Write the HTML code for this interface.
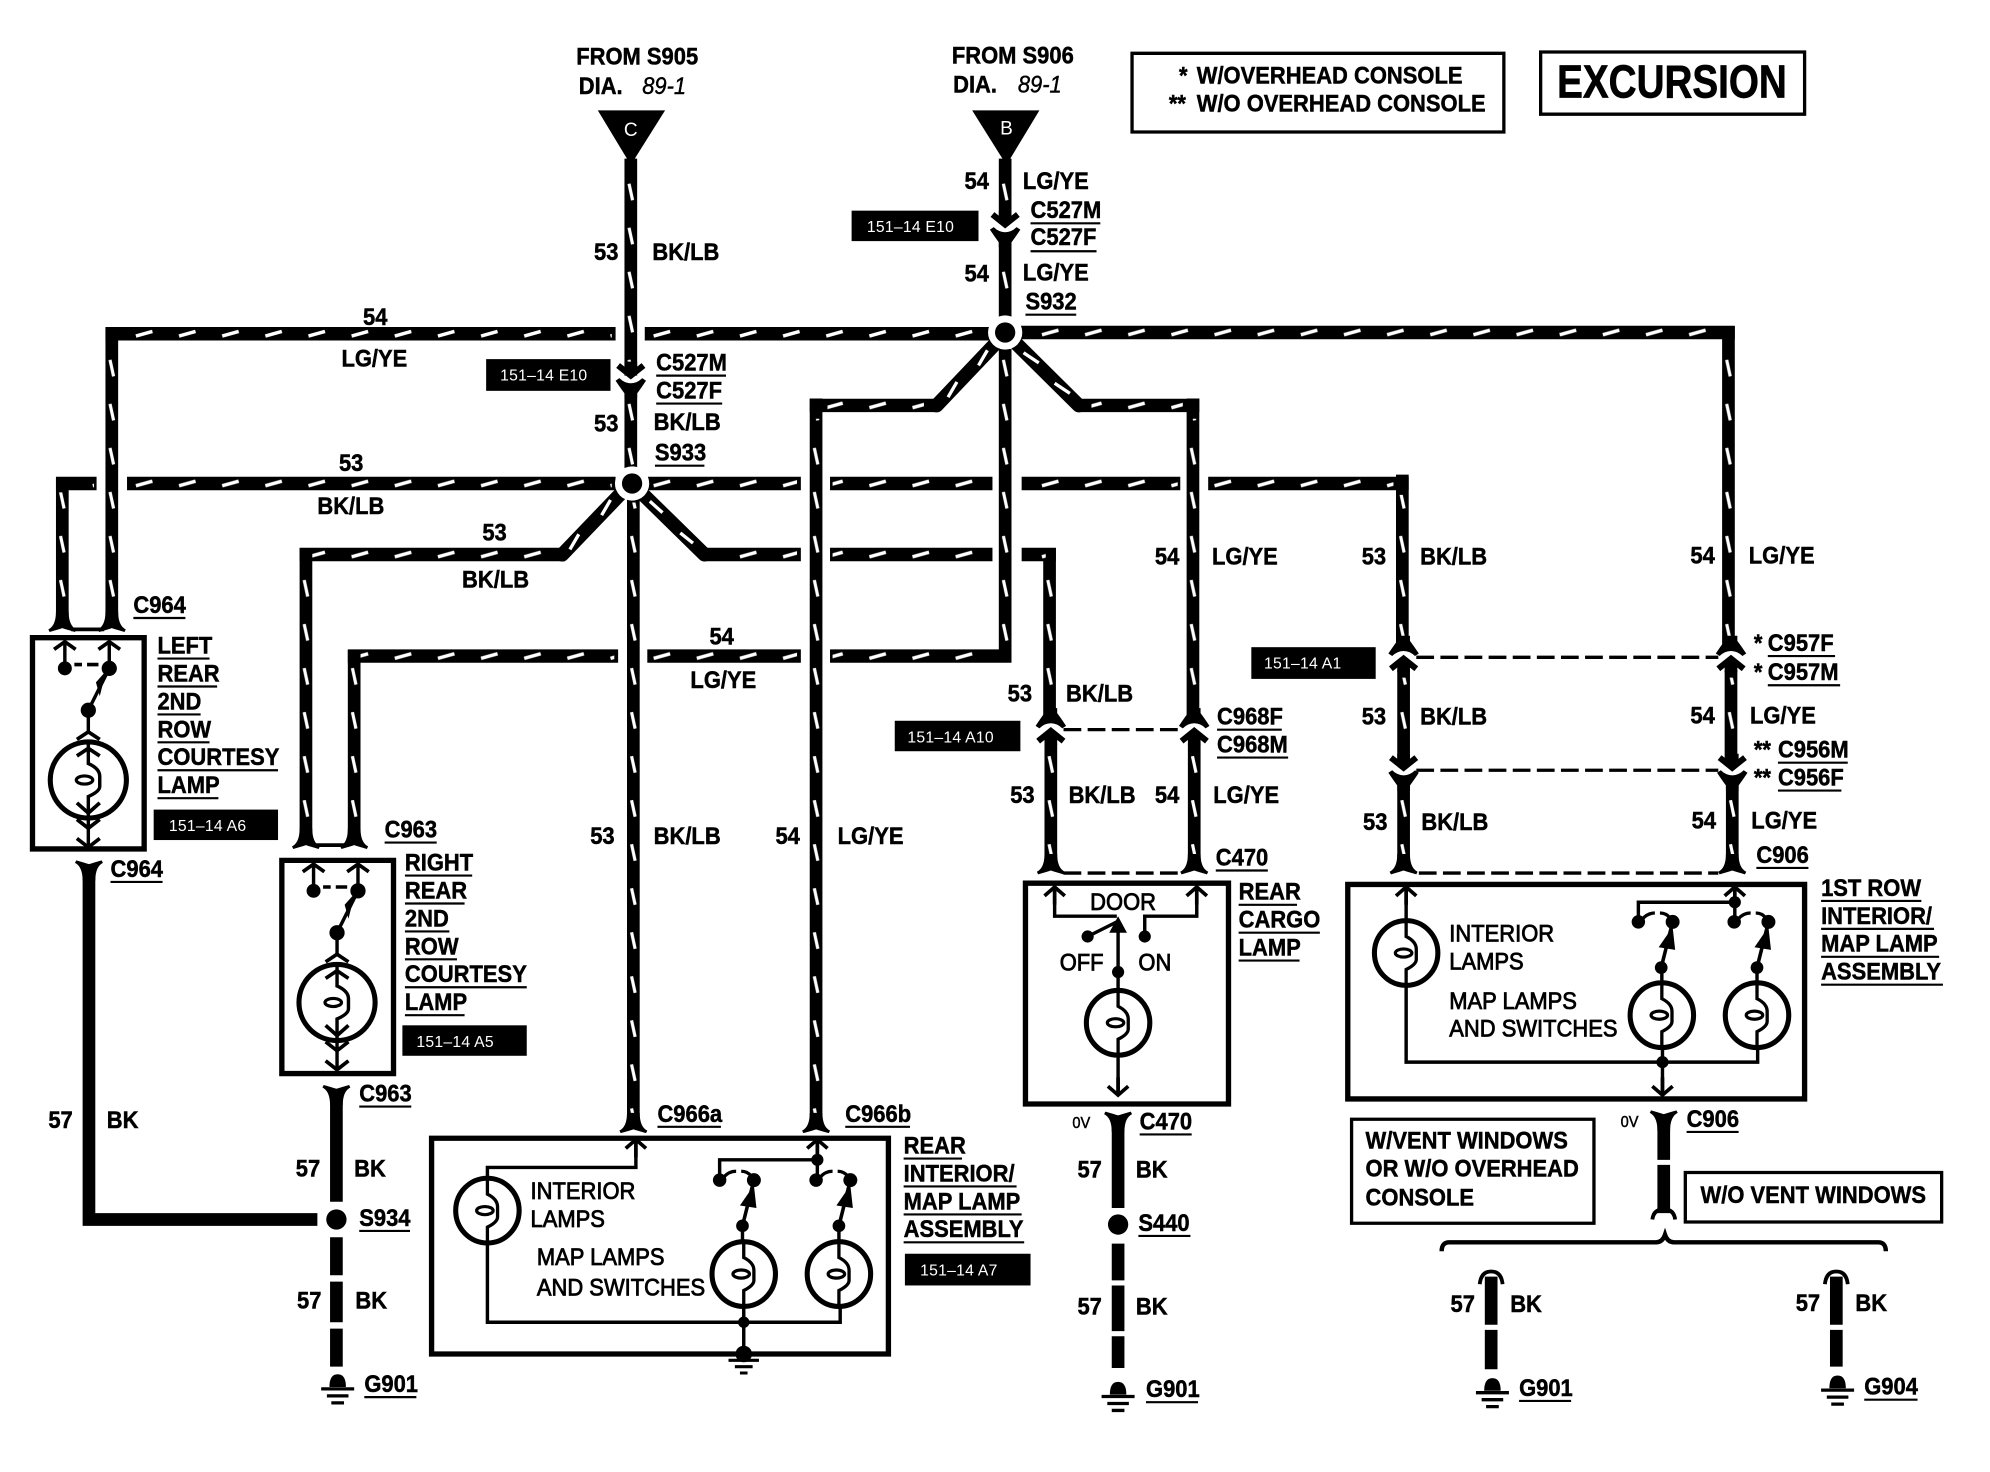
<!DOCTYPE html>
<html><head><meta charset="utf-8"><title>Excursion wiring diagram</title>
<style>
html,body{margin:0;padding:0;background:#fff}
svg{display:block}
text{font-family:"Liberation Sans",sans-serif;font-size:17.3px;font-weight:700;fill:#000;stroke:#000;stroke-width:.35;transform-box:fill-box;transform-origin:0 81%;transform:scaleY(1.1)}
text.n{font-weight:400;stroke-width:.6}
text.i{font-style:italic;font-weight:400;stroke-width:.3}
text.tg{font-size:12.4px;font-weight:400;fill:#fff;stroke:none;letter-spacing:.2px;transform:none}
text.s{font-size:11.5px;font-weight:400}
.w,.hw,.vw,.l,.b,.u,.th,.dd{fill:none;stroke:#000}
.hw{stroke-width:10.6}
.vw{stroke-width:10}
.hd{fill:none;stroke:url(#ph);stroke-width:10}
.vd{fill:none;stroke:url(#pv);stroke-width:10}
.l{stroke-width:2.7}
.b{stroke-width:4.2}
.u{stroke-width:1.7}
.th{stroke-width:10}
.dd{stroke-width:2.6;stroke-dasharray:14 5}
.wh{fill:none;stroke:#fff;stroke-width:2.6}
</style></head><body>
<svg xmlns="http://www.w3.org/2000/svg" xmlns:xlink="http://www.w3.org/1999/xlink" width="1990" height="1472" viewBox="0 0 1568 1160">
<defs>
<pattern id="ph" width="34" height="20" patternUnits="userSpaceOnUse" patternTransform="translate(0,10)"><path d="M5 11.8L18 8.2" stroke="#fff" stroke-width="2.7" fill="none"/></pattern>
<pattern id="pv" width="20" height="34.7" patternUnits="userSpaceOnUse" patternTransform="translate(10,0)"><path d="M8.6 6L11.4 19" stroke="#fff" stroke-width="2.5" fill="none"/></pattern>
<g id="cn"><path d="M-10 -9L0 -1L10 -9" fill="none" stroke="#000" stroke-width="4.8"/><path d="M-5 -12H5V-6L0 -2L-5 -6Z"/><path d="M-12 3L-9 1Q-5 5 0 5Q5 5 9 1L12 3Q8 9 5 13V17H-5V13Q-8 9 -12 3Z"/></g>
<g id="fk"><path d="M-11 6Q-5 3 -5 -8H5Q5 3 11 6L10 8Q3 6 0 5Q-3 6 -10 8Z"/></g>
<g id="au"><path d="M-8 7L0 0L8 7M0 0V14" fill="none" stroke="#000" stroke-width="2.9"/></g>
<g id="ad"><path d="M-8 -7L0 0L8 -7M0 0V-14" fill="none" stroke="#000" stroke-width="2.9"/></g>
<g id="lamp"><ellipse rx="25" ry="25.5" fill="#fff" stroke="#000" stroke-width="4"/><path d="M0 -25V-13Q8 -9 8 -3V5Q8 9 0 13V25" fill="none" stroke="#000" stroke-width="2.6"/><ellipse cx="-2" cy="0" rx="6.500" ry="3.200" fill="none" stroke="#000" stroke-width="2.500"/></g>
<g id="gnd"><path d="M-6.500 0Q-6.500 -10 0 -10Q6.500 -10 6.500 0Z"/><path d="M-13 1.500H13M-8.500 7H8.500M-5 12.500H5" stroke="#000" stroke-width="2.6" fill="none"/></g>
<g id="court">
<ellipse rx="30" ry="30" fill="#fff" stroke="#000" stroke-width="4"/>
<path d="M-18.500 -109V-88M16.500 -109V-88L0 -55V-37M0 -28V-13Q9 -9 9 -3V5Q9 9 0 13V38M0 38V52" fill="none" stroke="#000" stroke-width="2.7"/>
<ellipse cx="-3" cy="0" rx="6.500" ry="3.200" fill="none" stroke="#000" stroke-width="2.500"/>
<path d="M-9 -32L0 -38L9 -32M-9 -19L0 -25L9 -19M-9 18L0 26L9 18M-9 31L0 38L9 31M-9 46L0 53L9 46" fill="none" stroke="#000" stroke-width="2.9"/>
<path d="M-27 -103L-18.500 -109L-10 -103M8 -103L16.500 -109L25 -103" fill="none" stroke="#000" stroke-width="2.9"/>
<circle cx="-18.500" cy="-88" r="5.500"/><circle cx="16.500" cy="-88" r="6"/><circle cy="-55" r="6"/>
<path d="M-11 -91H-5M-1 -91H8" stroke="#000" stroke-width="2.8" fill="none"/><path d="M6 -77L14 -86L9 -66Z"/>
</g>
<g id="sw"><circle cx="0" cy="0" r="5.300"/><path d="M3 -2Q7 -7 13 -7M17 -7Q22 -7 25 -3" fill="none" stroke="#000" stroke-width="2.600"/><circle cx="27" cy="0" r="5.500"/><path d="M27 0L18 36" fill="none" stroke="#000" stroke-width="2.800"/><path d="M27 4L29 22L16 20Z"/><circle cx="18" cy="36" r="5"/></g>
</defs>
<rect width="1568" height="1160" fill="#fff"/>

<!-- source triangles -->
<path d="M471 87H524L497 130Z"/><path d="M766 87H819L793 130Z"/>
<text x="497" y="107" text-anchor="middle" style="fill:#fff;stroke:none;font-size:15px;font-weight:400;transform:none">C</text>
<text x="793" y="106" text-anchor="middle" style="fill:#fff;stroke:none;font-size:15px;font-weight:400;transform:none">B</text>

<!-- vertical dashed wires -->
<g transform="translate(497,0)"><path class="vw" d="M0 125V296"/><path class="vd" d="M0 130V286"/><path class="vw" d="M0 305V375"/><path class="vd" d="M0 310V368"/></g>
<g transform="translate(499,0)"><path class="vw" d="M0 392V884"/><path class="vd" d="M0 396V878"/></g>
<g transform="translate(792,0)"><path class="vw" d="M0 125V176"/><path class="vd" d="M0 130V168"/><path class="vw" d="M0 186V250"/><path class="vd" d="M0 192V245"/><path class="vw" d="M0 275V521"/><path class="vd" d="M0 280V512"/></g>
<g transform="translate(88,0)"><path class="vw" d="M0 258V488"/><path class="vd" d="M0 272V484"/></g>
<g transform="translate(49,0)"><path class="vw" d="M0 376V488"/><path class="vd" d="M0 388V484"/></g>
<g transform="translate(241,0)"><path class="vw" d="M0 432V660"/><path class="vd" d="M0 446V655"/></g>
<g transform="translate(279,0)"><path class="vw" d="M0 512V660"/><path class="vd" d="M0 526V655"/></g>
<g transform="translate(643,0)"><path class="vw" d="M0 314V884"/><path class="vd" d="M0 330V878"/></g>
<g transform="translate(940,0)"><path class="vw" d="M0 314V564"/><path class="vd" d="M0 330V558"/></g>
<g transform="translate(941,0)"><path class="vw" d="M0 586V682"/><path class="vd" d="M0 592V676"/></g>
<g transform="translate(827,0)"><path class="vw" d="M0 432V564"/><path class="vd" d="M0 446V558"/></g>
<g transform="translate(828,0)"><path class="vw" d="M0 586V682"/><path class="vd" d="M0 592V676"/></g>
<g transform="translate(1105,0)"><path class="vw" d="M0 374V510"/><path class="vd" d="M0 390V504"/></g>
<g transform="translate(1106,0)"><path class="vw" d="M0 528V598"/><path class="vd" d="M0 534V590"/><path class="vw" d="M0 616V682"/><path class="vd" d="M0 622V676"/></g>
<g transform="translate(1362,0)"><path class="vw" d="M0 257V510"/><path class="vd" d="M0 272V504"/></g>
<g transform="translate(1364,0)"><path class="vw" d="M0 528V598"/><path class="vd" d="M0 534V590"/></g>
<g transform="translate(1365,0)"><path class="vw" d="M0 616V682"/><path class="vd" d="M0 622V676"/></g>

<!-- horizontal dashed wires -->
<g transform="translate(0,263)"><path class="hw" d="M83 0H485M508 0H782"/><path class="hd" d="M94 0H482M512 0H780"/></g>
<g transform="translate(0,262)"><path class="hw" d="M802 0H1367"/><path class="hd" d="M806 0H1355"/></g>
<g transform="translate(0,381)"><path class="hw" d="M44 0H76M100 0H485M510 0H631M654 0H782M805 0H930M952 0H1110"/><path class="hd" d="M54 0H74M102 0H482M512 0H628M656 0H780M807 0H928M954 0H1098"/></g>
<g transform="translate(0,437)"><path class="hw" d="M236 0H445M555 0H631M654 0H782M805 0H832"/><path class="hd" d="M246 0H436M564 0H628M656 0H780M807 0H824"/></g>
<g transform="translate(0,517)"><path class="hw" d="M274 0H487M510 0H631M654 0H797"/><path class="hd" d="M284 0H484M512 0H628M656 0H784"/></g>
<g transform="translate(0,319.500)"><path class="hw" d="M638 0H738M850 0H945"/><path class="hd" d="M652 0H728M860 0H932"/></g>
<!-- diagonals -->
<path class="w" d="M787 268L738 319.500M798 268L850 319.500M491 387L443 437M504 387L555 437" style="stroke-width:11;stroke-linecap:round"/>
<path class="wh" d="M771 288L778 276M747 313L754 301M806.500 278L818.500 286M831 302L843 310M474 406L481 394M449 433L456 421M512 395L522 404M536 420L546 428"/>
<!-- splices -->
<circle cx="792" cy="262" r="13.500" fill="#fff"/><circle cx="792" cy="262" r="8"/>
<circle cx="498" cy="381" r="13.500" fill="#fff"/><circle cx="498" cy="381" r="8"/>

<!-- connectors -->
<use xlink:href="#cn" x="497" y="297"/><use xlink:href="#cn" x="792" y="178"/>
<use xlink:href="#cn" x="1106" y="606"/><use xlink:href="#cn" x="1365" y="606"/>
<g transform="translate(828,575) scale(1,-1)"><use xlink:href="#cn"/></g>
<g transform="translate(941,575) scale(1,-1)"><use xlink:href="#cn"/></g>
<g transform="translate(1106,518) scale(1,-1)"><use xlink:href="#cn"/></g>
<g transform="translate(1364,518) scale(1,-1)"><use xlink:href="#cn"/></g>
<use xlink:href="#fk" x="49" y="490"/><use xlink:href="#fk" x="88" y="490"/><path class="w" style="stroke-width:3" d="M56 496H82M248 666H272"/>
<use xlink:href="#fk" x="241" y="661"/><use xlink:href="#fk" x="279" y="661"/>
<use xlink:href="#fk" x="499" y="885"/><use xlink:href="#fk" x="643" y="885"/>
<use xlink:href="#fk" x="828" y="681"/><use xlink:href="#fk" x="941" y="681"/>
<use xlink:href="#fk" x="1106" y="681"/><use xlink:href="#fk" x="1365" y="681"/>
<path class="dd" d="M838 575H931M1116 518H1354M1116 607H1354M838 688H930M1118 688H1354"/>

<!-- black tags -->
<rect x="671" y="166" width="100" height="24"/><rect x="383" y="283" width="98" height="25"/><rect x="121" y="638" width="98" height="24"/><rect x="317" y="808" width="98" height="24"/><rect x="713" y="988" width="99" height="25"/><rect x="705" y="568" width="99" height="24"/><rect x="986" y="510" width="98" height="25"/>
<text class="tg" x="683" y="183">151–14 E10</text><text class="tg" x="394" y="300">151–14 E10</text><text class="tg" x="133" y="655">151–14 A6</text><text class="tg" x="328" y="825">151–14 A5</text><text class="tg" x="725" y="1005">151–14 A7</text><text class="tg" x="715" y="585">151–14 A10</text><text class="tg" x="996" y="527">151–14 A1</text>

<!-- note boxes -->
<path d="M892 42H1185V104H892ZM1214 41H1422V90H1214Z" fill="none" stroke="#000" stroke-width="2.600"/>
<path d="M1065 882H1256V964H1065ZM1328 924H1530V963H1328Z" fill="none" stroke="#000" stroke-width="2.600"/>

<!-- courtesy lamps -->
<path class="b" d="M25.500 502.500H113.500V669H25.500Z"/><use xlink:href="#court" x="69.500" y="614.700"/>
<path class="b" d="M222 678H310V846H222Z"/><use xlink:href="#court" x="265.500" y="790"/>

<!-- 57 wires -->
<path class="th" d="M70 684V961H250"/><g transform="translate(70,686) scale(1,-1)"><use xlink:href="#fk"/></g>
<path class="th" d="M265 862V947M265 975V1005M265 1010V1042M265 1047V1077"/><g transform="translate(265,863) scale(1,-1)"><use xlink:href="#fk"/></g><circle cx="265" cy="961" r="8"/>
<use xlink:href="#gnd" x="266" y="1093"/>
<path class="th" d="M881 884V952M881 980V1009M881 1013V1049M881 1053V1078"/><g transform="translate(881,884) scale(1,-1)"><use xlink:href="#fk"/></g><circle cx="881" cy="965" r="8"/>
<use xlink:href="#gnd" x="881" y="1099"/>
<path class="th" d="M1311 882V914M1311 918V956"/><g transform="translate(1311,883) scale(1,-1)"><use xlink:href="#fk"/></g>
<path class="w" style="stroke-width:3" d="M1302 961Q1303 953 1311 953Q1319 953 1320 961"/>
<path class="w" style="stroke-width:3.500" d="M1136 986Q1136 979 1142 979H1305Q1310 979 1312 973Q1314 979 1319 979H1480Q1486 979 1486 986"/>
<path class="th" d="M1175 1006V1044M1175 1048V1079"/><path class="w" style="stroke-width:3" d="M1166 1012Q1167 1002 1175 1002Q1183 1002 1184 1012"/><use xlink:href="#gnd" x="1176" y="1096"/>
<path class="th" d="M1447 1006V1044M1447 1048V1077"/><path class="w" style="stroke-width:3" d="M1438 1012Q1439 1002 1447 1002Q1455 1002 1456 1012"/><use xlink:href="#gnd" x="1448" y="1094"/>

<!-- rear assembly -->
<path class="b" d="M340 897H700V1067H340Z"/>
<path class="l" d="M384 929V920H501V902M384 979V1042H662V1029M586 1029V1067M644 902V930M644 914H567V930"/>
<use xlink:href="#au" x="501" y="898"/><use xlink:href="#au" x="644" y="898"/>
<circle cx="644" cy="914" r="4.800"/><circle cx="586" cy="1042" r="4.500"/><circle cx="586" cy="1067" r="6.500"/>
<use xlink:href="#sw" x="567" y="930"/><use xlink:href="#sw" x="643" y="930"/>
<path class="l" d="M585 966V980M661 966V980"/>
<use xlink:href="#lamp" x="384" y="954"/><use xlink:href="#lamp" x="586" y="1004"/><use xlink:href="#lamp" x="661" y="1004"/>
<path d="M574 1072H598M579 1077H593M583 1082H589" fill="none" stroke="#000" stroke-width="2.400"/>

<!-- door box -->
<path class="b" d="M808 696H968V870H808Z"/>
<path class="l" d="M831 700V722H880M943 700V722H902V738M881 726V782M881 830V861M857 738L881 726"/>
<use xlink:href="#au" x="831" y="699"/><use xlink:href="#au" x="943" y="699"/><use xlink:href="#ad" x="881" y="863"/>
<circle cx="857" cy="738" r="4.800"/><circle cx="902" cy="738" r="4.800"/><circle cx="881" cy="766" r="4.800"/>
<path d="M881 722L888 735H874Z"/>
<use xlink:href="#lamp" x="881" y="806"/>

<!-- first row box -->
<path class="b" d="M1062 697H1422V866H1062Z"/>
<path class="l" d="M1108 702V726M1108 776V837H1385V825M1310 825V861M1367 702V727M1367 711H1291V727"/>
<use xlink:href="#au" x="1108" y="699"/><use xlink:href="#au" x="1367" y="699"/><use xlink:href="#ad" x="1310" y="863"/>
<circle cx="1367" cy="711" r="4.800"/><circle cx="1310" cy="837" r="4.800"/>
<use xlink:href="#sw" x="1291" y="726.500"/><use xlink:href="#sw" x="1366.500" y="726.500"/>
<path class="l" d="M1309.500 762V776M1384.500 762V776"/>
<use xlink:href="#lamp" x="1108" y="751"/><use xlink:href="#lamp" x="1309.500" y="800"/><use xlink:href="#lamp" x="1384.500" y="800"/>

<!-- underlines -->
<path class="u" d="M812 176H867M812 198H864M808 248H848M517 296H572M517 318H569M516 367H555M105 487H146M124 519H165M124 541H171M124 563H158M124 585H165M124 607H219M124 629H172M87 695H128M303 664H344M319 690H372M319 712H366M319 734H354M319 756H360M319 778H415M319 800H366M283 872H324M283 970H323M287 1101H328M518 888H568M666 888H717M712 913H758M712 935H801M712 957H805M712 979H807M959 575H1010M959 597H1015M958 686H999M976 713H1022M976 735H1040M976 757H1024M898 894H939M897 974H938M903 1105H944M1393 517H1446M1393 540H1450M1401 601H1456M1401 623H1451M1384 684H1425M1435 710H1514M1435 732H1524M1435 754H1528M1435 776H1531M1329 892H1370M1197 1104H1238M1469 1103H1511"/>

<!-- labels -->
<text x="454" y="51">FROM S905</text><text x="456" y="74">DIA.</text><text class="i" x="506" y="74">89-1</text>
<text x="750" y="50">FROM S906</text><text x="751" y="73">DIA.</text><text class="i" x="802" y="73">89-1</text>
<text x="929" y="66">*</text><text x="943" y="66">W/OVERHEAD CONSOLE</text>
<text x="921" y="88">**</text><text x="943" y="88">W/O OVERHEAD CONSOLE</text>
<text x="1227" y="77" style="font-size:33px;stroke-width:.5" textLength="181" lengthAdjust="spacingAndGlyphs">EXCURSION</text>

<text x="468" y="205">53</text><text x="514" y="205">BK/LB</text>
<text x="286" y="256">54</text><text x="269" y="289">LG/YE</text>
<text x="760" y="149">54</text><text x="806" y="149">LG/YE</text>
<text x="812" y="172">C527M</text><text x="812" y="193">C527F</text>
<text x="760" y="222">54</text><text x="806" y="221">LG/YE</text><text x="808" y="244">S932</text>
<text x="517" y="292">C527M</text><text x="517" y="314">C527F</text>
<text x="468" y="340">53</text><text x="515" y="339">BK/LB</text><text x="516" y="363">S933</text>
<text x="267" y="371">53</text><text x="250" y="405">BK/LB</text>
<text x="380" y="426">53</text><text x="364" y="463">BK/LB</text>
<text x="559" y="508">54</text><text x="544" y="542">LG/YE</text>
<text x="105" y="483">C964</text>
<text x="124" y="515">LEFT</text><text x="124" y="537">REAR</text><text x="124" y="559">2ND</text><text x="124" y="581">ROW</text><text x="124" y="603">COURTESY</text><text x="124" y="625">LAMP</text>
<text x="87" y="691">C964</text><text x="38" y="889">57</text><text x="84" y="889">BK</text>
<text x="303" y="660">C963</text>
<text x="319" y="686">RIGHT</text><text x="319" y="708">REAR</text><text x="319" y="730">2ND</text><text x="319" y="752">ROW</text><text x="319" y="774">COURTESY</text><text x="319" y="796">LAMP</text>
<text x="283" y="868">C963</text><text x="233" y="927">57</text><text x="279" y="927">BK</text>
<text x="283" y="966">S934</text><text x="234" y="1031">57</text><text x="280" y="1031">BK</text><text x="287" y="1097">G901</text>
<text x="465" y="665">53</text><text x="515" y="665">BK/LB</text><text x="611" y="665">54</text><text x="660" y="665">LG/YE</text>
<text x="518" y="884">C966a</text><text x="666" y="884">C966b</text>
<text x="712" y="909">REAR</text><text x="712" y="931">INTERIOR/</text><text x="712" y="953">MAP LAMP</text><text x="712" y="975">ASSEMBLY</text>
<text class="n" x="418" y="945">INTERIOR</text><text class="n" x="418" y="967">LAMPS</text><text class="n" x="423" y="997">MAP LAMPS</text><text class="n" x="423" y="1021">AND SWITCHES</text>
<text x="910" y="445">54</text><text x="955" y="445">LG/YE</text>
<text x="1073" y="445">53</text><text x="1119" y="445">BK/LB</text>
<text x="1332" y="444">54</text><text x="1378" y="444">LG/YE</text>
<text x="794" y="553">53</text><text x="840" y="553">BK/LB</text>
<text x="959" y="571">C968F</text><text x="959" y="593">C968M</text>
<text x="796" y="633">53</text><text x="842" y="633">BK/LB</text><text x="910" y="633">54</text><text x="956" y="633">LG/YE</text>
<text x="958" y="682">C470</text>
<text x="976" y="709">REAR</text><text x="976" y="731">CARGO</text><text x="976" y="753">LAMP</text>
<text class="n" x="859" y="717">DOOR</text><text class="n" x="835" y="765">OFF</text><text class="n" x="897" y="765">ON</text>
<text class="s" x="845" y="889">0V</text><text x="898" y="890">C470</text>
<text x="849" y="928">57</text><text x="895" y="928">BK</text><text x="897" y="970">S440</text>
<text x="849" y="1036">57</text><text x="895" y="1036">BK</text><text x="903" y="1101">G901</text>
<text x="1382" y="513">*</text><text x="1393" y="513">C957F</text><text x="1382" y="536">*</text><text x="1393" y="536">C957M</text>
<text x="1073" y="571">53</text><text x="1119" y="571">BK/LB</text><text x="1332" y="570">54</text><text x="1379" y="570">LG/YE</text>
<text x="1382" y="597">**</text><text x="1401" y="597">C956M</text><text x="1382" y="619">**</text><text x="1401" y="619">C956F</text>
<text x="1074" y="654">53</text><text x="1120" y="654">BK/LB</text><text x="1333" y="653">54</text><text x="1380" y="653">LG/YE</text>
<text x="1384" y="680">C906</text>
<text x="1435" y="706">1ST ROW</text><text x="1435" y="728">INTERIOR/</text><text x="1435" y="750">MAP LAMP</text><text x="1435" y="772">ASSEMBLY</text>
<text class="n" x="1142" y="742">INTERIOR</text><text class="n" x="1142" y="764">LAMPS</text><text class="n" x="1142" y="795">MAP LAMPS</text><text class="n" x="1142" y="817">AND SWITCHES</text>
<text class="s" x="1277" y="888">0V</text><text x="1329" y="888">C906</text>
<text x="1076" y="905">W/VENT WINDOWS</text><text x="1076" y="927">OR W/O OVERHEAD</text><text x="1076" y="950">CONSOLE</text>
<text x="1340" y="948">W/O VENT WINDOWS</text>
<text x="1143" y="1034">57</text><text x="1190" y="1034">BK</text><text x="1197" y="1100">G901</text>
<text x="1415" y="1033">57</text><text x="1462" y="1033">BK</text><text x="1469" y="1099">G904</text>
</svg>
</body></html>
